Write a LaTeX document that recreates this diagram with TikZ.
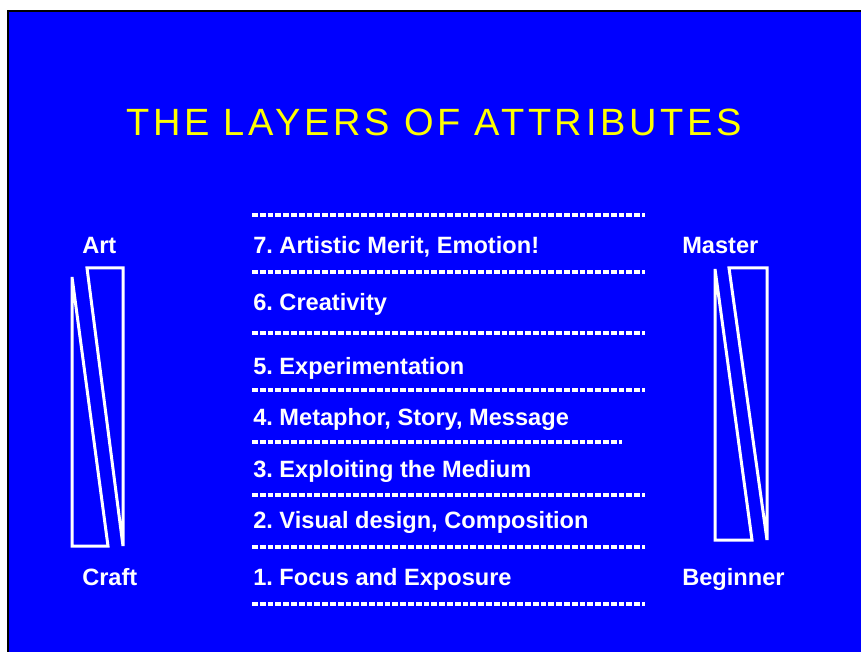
\documentclass[tikz,border=0pt]{standalone}
\usepackage{fontspec}
\setmainfont{Liberation Sans}
\newfontfamily\titlefont[LetterSpace=9.8]{Liberation Sans}
\usetikzlibrary{positioning}
\definecolor{slide}{RGB}{0,0,255}
\definecolor{headline}{RGB}{255,255,0}
\frenchspacing

\begin{document}
\begin{tikzpicture}[
  x=0.75pt, y=-0.75pt,
  layer/.style={anchor=base west, inner sep=0pt, text=white, font=\bfseries\fontsize{17.7}{20}\selectfont},
  rule/.style={draw=white, line width=2.5pt, dash pattern=on 4.4pt off 1.45pt},
  wedge/.style={draw=white, line width=2.25pt}
]
\useasboundingbox (0,0) rectangle (861,652);
\fill[slide] (8,11) rectangle (861,652);
\draw[line width=1.5pt] (8,652) -- (8,11) -- (861,11);

\node[anchor=base west, inner sep=0pt, text=headline, font=\titlefont\fontsize{28.5}{32}\selectfont] (title) at (126,135.5) {THE LAYERS OF ATTRIBUTES};

% the seven layers
\node[layer] (l7) at (253,253.5) {7. Artistic Merit, Emotion!};
\node[layer] (l6) at (253,310.5) {6. Creativity};
\node[layer] (l5) at (253,374.5) {5. Experimentation};
\node[layer] (l4) at (253,425.5) {4. Metaphor, Story, Message};
\node[layer] (l3) at (253,477.5) {3. Exploiting the Medium};
\node[layer] (l2) at (253,528.5) {2. Visual design, Composition};
\node[layer] (l1) at (253,585.5) {1. Focus and Exposure};

\foreach \y in {215,272,333,390,495,547,604}
  \draw[rule] (252,\y) -- (645,\y);
\draw[rule] (252,442) -- (622,442);

% side scales
\node[layer] (art) at (82,253.5) {Art};
\node[layer] (craft) at (82,585.5) {Craft};
\node[layer] (master) at (682,253.5) {Master};
\node[layer] (beginner) at (682,585.5) {Beginner};

\draw[wedge] (72,277) -- (72,546) -- (108,546) -- cycle;
\draw[wedge] (87,268) -- (123,268) -- (123,546) -- cycle;
\draw[wedge] (715,269) -- (715,540) -- (752,540) -- cycle;
\draw[wedge] (729,268) -- (767,268) -- (767,540) -- cycle;
\end{tikzpicture}
\end{document}
